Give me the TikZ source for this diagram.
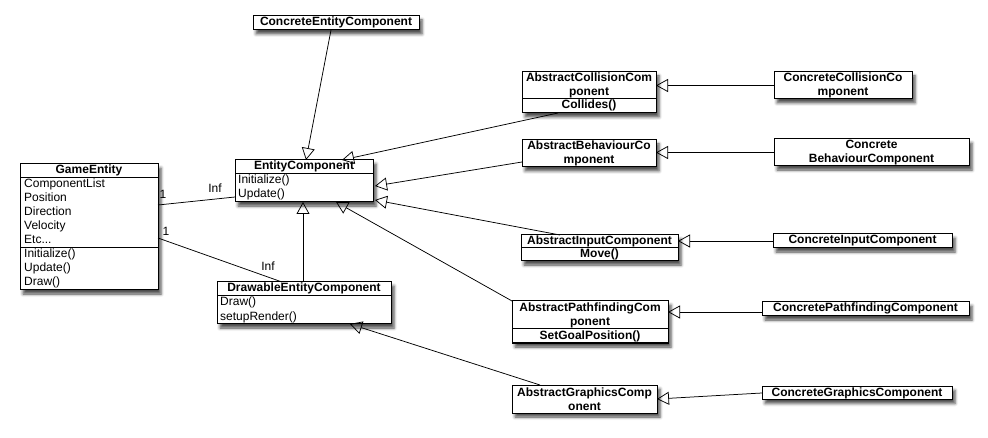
\documentclass[tikz,border=0pt]{standalone}
\usepackage{fontspec}
\setmainfont{Liberation Sans}
\usetikzlibrary{arrows.meta,shadows.blur}
\begin{document}
\begin{tikzpicture}[x=1pt,y=-1pt,
  box/.style={draw,fill=white,line width=1pt,inner sep=0pt,outer sep=0pt,anchor=north west,
    blur shadow={shadow xshift=3pt,shadow yshift=-4pt,shadow blur radius=3pt,shadow opacity=70}},
  ttl/.style={font=\fontsize{12}{14}\selectfont\bfseries,inner sep=0pt,text height=9pt,text depth=3pt},
  ttl2/.style={font=\fontsize{12}{14}\selectfont\bfseries,inner sep=0pt,align=center},
  txt/.style={font=\fontsize{12}{14}\selectfont,inner sep=0pt,text height=9pt,text depth=3pt,anchor=west},
  sep/.style={line width=1pt},
  inh/.style={line width=0.75pt,-{Triangle[open,length=12pt,width=13pt,line width=0.75pt]}},
  assoc/.style={line width=0.75pt},
  lbl/.style={font=\fontsize{12}{14}\selectfont,inner sep=0pt}]
\useasboundingbox (0,0) rectangle (988,438);

% GameEntity
\node[box,minimum width=138pt,minimum height=126pt] (ge) at (20,164) {};
\draw[sep] ([yshift=-14pt]ge.north west) -- ([yshift=-14pt]ge.north east);
\draw[sep] ([yshift=-84pt]ge.north west) -- ([yshift=-84pt]ge.north east);
\node[ttl] (geT) at (89,171) {GameEntity};
\node[txt] (geA1) at (24,185) {ComponentList};
\node[txt] (geA2) at (24,199) {Position};
\node[txt] (geA3) at (24,213) {Direction};
\node[txt] (geA4) at (24,227) {Velocity};
\node[txt] (geA5) at (24,241) {Etc...};
\node[txt] (geM1) at (24,255) {Initialize()};
\node[txt] (geM2) at (24,269) {Update()};
\node[txt] (geM3) at (24,283) {Draw()};

% EntityComponent
\node[box,minimum width=138pt,minimum height=42pt] (ec) at (235,160) {};
\draw[sep] ([yshift=-14pt]ec.north west) -- ([yshift=-14pt]ec.north east);
\node[ttl] (ecT) at (304,167) {EntityComponent};
\node[txt] (ecM1) at (238,181) {Initialize()};
\node[txt] (ecM2) at (238,195) {Update()};

% DrawableEntityComponent
\node[box,minimum width=174pt,minimum height=42pt] (dec) at (217,282) {};
\draw[sep] ([yshift=-14pt]dec.north west) -- ([yshift=-14pt]dec.north east);
\node[ttl] (decT) at (304,289) {DrawableEntityComponent};
\node[txt] (decM1) at (220,303) {Draw()};
\node[txt] (decM2) at (220,317) {setupRender()};

% ConcreteEntityComponent
\node[box,minimum width=166pt,minimum height=14pt] (cec) at (253,16) {};
\node[ttl] (cecT) at (336,23) {ConcreteEntityComponent};

% AbstractCollisionComponent
\node[box,minimum width=134pt,minimum height=41pt] (ac) at (522,72) {};
\draw[sep] ([yshift=-27pt]ac.north west) -- ([yshift=-27pt]ac.north east);
\node[ttl2] (acT) at (589,85.5) {AbstractCollisionCom\\ponent};
\node[ttl] (acM) at (589,106) {Collides()};

% AbstractBehaviourComponent
\node[box,minimum width=134pt,minimum height=27pt] (ab) at (522,140) {};
\node[ttl2] (abT) at (589,153.5) {AbstractBehaviourCo\\mponent};

% ConcreteCollisionComponent
\node[box,minimum width=138pt,minimum height=27pt] (cc) at (774,72) {};
\node[ttl2] (ccT) at (843,85.5) {ConcreteCollisionCo\\mponent};

% ConcreteBehaviourComponent
\node[box,minimum width=195pt,minimum height=27pt] (cb) at (774,139) {};
\node[ttl2] (cbT) at (871.5,152.5) {Concrete\\BehaviourComponent};

% AbstractInputComponent
\node[box,minimum width=157pt,minimum height=26pt] (ai) at (521,235) {};
\draw[sep] ([yshift=-13pt]ai.north west) -- ([yshift=-13pt]ai.north east);
\node[ttl] (aiT) at (599.5,241.5) {AbstractInputComponent};
\node[ttl] (aiM) at (599.5,254.5) {Move()};

% ConcreteInputComponent
\node[box,minimum width=179pt,minimum height=14pt] (ci) at (773,234) {};
\node[ttl] (ciT) at (862.5,241) {ConcreteInputComponent};

% AbstractPathfindingComponent
\node[box,minimum width=156pt,minimum height=42pt] (ap) at (512,301) {};
\draw[sep] ([yshift=-28pt]ap.north west) -- ([yshift=-28pt]ap.north east);
\node[ttl2] (apT) at (590,315) {AbstractPathfindingCom\\ponent};
\node[ttl] (apM) at (590,336) {SetGoalPosition()};

% ConcretePathfindingComponent
\node[box,minimum width=207pt,minimum height=14pt] (cp) at (762,302) {};
\node[ttl] (cpT) at (865.5,309) {ConcretePathfindingComponent};

% AbstractGraphicsComponent
\node[box,minimum width=145pt,minimum height=28pt] (ag) at (512,385) {};
\node[ttl2] (agT) at (584.5,399) {AbstractGraphicsComp\\onent};

% ConcreteGraphicsComponent
\node[box,minimum width=190pt,minimum height=13pt] (cg) at (762,386.5) {};
\node[ttl] (cgT) at (857,393) {ConcreteGraphicsComponent};

% inheritance connectors
\draw[inh] ([xshift=78pt]cec.south west) -- ([xshift=71pt]ec.north west);
\draw[inh] ([xshift=36pt]ac.south west) -- ([xshift=107pt]ec.north west);
\draw[inh] ([yshift=-22pt]ab.north west) -- ([xshift=2pt,yshift=-26pt]ec.north east);
\draw[inh] ([xshift=39pt]ai.north west) -- ([xshift=2pt,yshift=2pt]ec.south east);
\draw[inh] (ap.north west) -- ([xshift=101pt]ec.south west);
\draw[inh] ([xshift=86pt]dec.north west) -- ([xshift=68pt]ec.south west);
\draw[inh] ([xshift=28pt]ag.north west) -- ([xshift=-41pt]dec.south east);

\draw[inh] (cc.west) -- (cc.west -| ac.east);
\draw[inh] (cb.west) -- (cb.west -| ab.east);
\draw[inh] (ci.west) -- (ci.west -| ai.east);
\draw[inh] ([yshift=-10pt]cp.north west) -- ([yshift=-11pt]ap.north east);
\draw[inh] (cg.west) -- ([yshift=-14pt]ag.north east);

% associations
\draw[assoc] ([yshift=-41pt]ge.north east) -- ([yshift=-37pt]ec.north west);
\draw[assoc] ([yshift=-74pt]ge.north east) -- ([xshift=65pt]dec.north west);
\node[lbl] (m1) at (163,194) {1};
\node[lbl] (i1) at (215,188) {Inf};
\node[lbl] (m2) at (166,231) {1};
\node[lbl] (i2) at (268,266) {Inf};
\end{tikzpicture}
\end{document}
